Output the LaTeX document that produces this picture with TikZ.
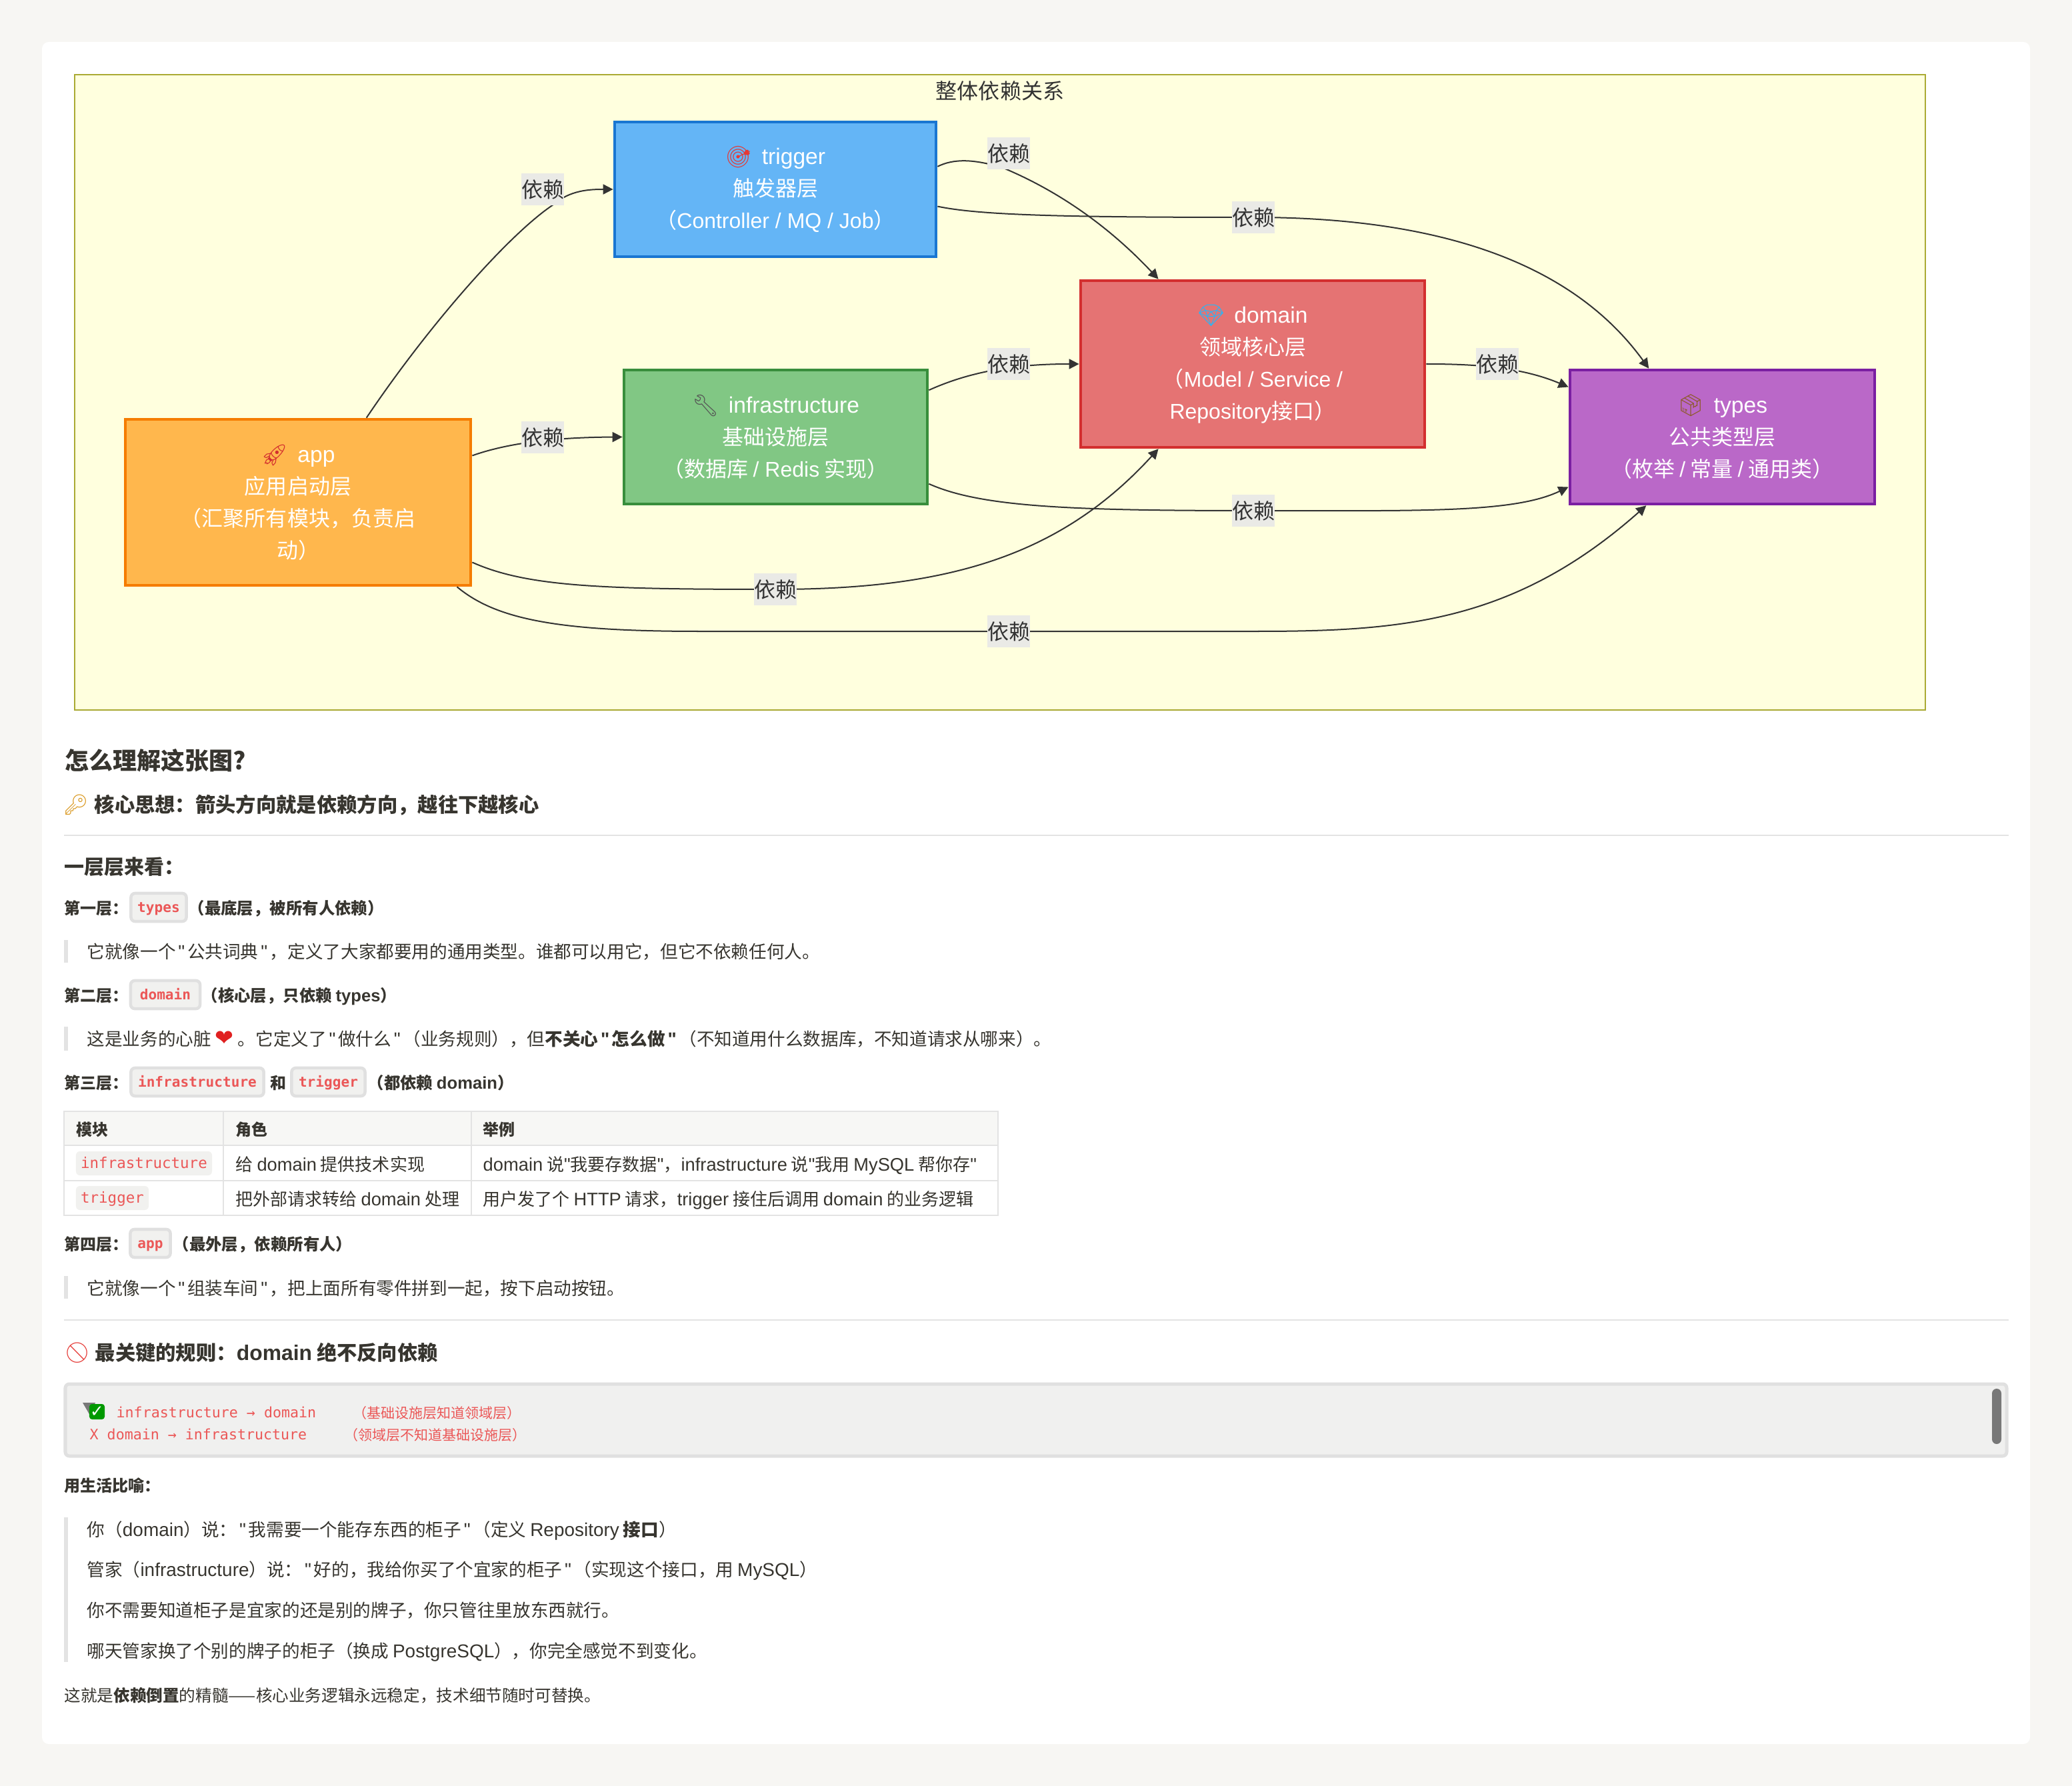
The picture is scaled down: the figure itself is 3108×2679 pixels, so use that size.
\documentclass[tikz,border=0pt]{standalone}
\usepackage{fontspec}
\setmainfont{Noto Sans CJK SC}
\newfontfamily\lat[Scale=1.05]{Liberation Sans}
\newfontfamily\latnarrow{Liberation Sans}
\newfontfamily\mono{DejaVu Sans Mono}
\newfontfamily\symb{DejaVu Sans}
\newfontfamily\emoji{Noto Emoji}
\usetikzlibrary{arrows.meta}
\definecolor{pagefill}{HTML}{F7F6F3}
\definecolor{clusterfill}{HTML}{FFFFDE}
\definecolor{clusterborder}{HTML}{AAAA33}
\definecolor{ink}{HTML}{37352F}
\definecolor{darkline}{HTML}{333333}
\definecolor{edgelabel}{HTML}{EAEAE6}
\definecolor{rulegrey}{HTML}{E3E3E3}
\definecolor{chipfill}{HTML}{F1F1EF}
\definecolor{chipborder}{HTML}{E0E0E0}
\definecolor{codered}{HTML}{EB5757}
\definecolor{headfill}{HTML}{F7F7F5}
\definecolor{codefill}{HTML}{F0F0EF}
\definecolor{triggerfill}{HTML}{64B5F6}
\definecolor{triggerborder}{HTML}{1976D2}
\definecolor{infrafill}{HTML}{81C784}
\definecolor{infraborder}{HTML}{388E3C}
\definecolor{appfill}{HTML}{FFB74D}
\definecolor{appborder}{HTML}{F57C00}
\definecolor{domainfill}{HTML}{E57373}
\definecolor{domainborder}{HTML}{D32F2F}
\definecolor{typesfill}{HTML}{BA68C8}
\definecolor{typesborder}{HTML}{7B1FA2}
\newcommand{\la}[1]{{\lat #1}}
\newcommand{\lan}[1]{{\latnarrow #1}}
\newcommand{\qt}{\kern.14em{\lat"}\kern.14em}
\newcommand{\emj}[2]{{\color[HTML]{#1}\emoji #2}}
\tikzset{
  txt/.style={anchor=west, inner sep=0pt, yshift=-0.015cm, text=ink, text height=#1*0.0088cm, text depth=#1*0.0012cm,
    font=\fontsize{\fpeval{#1*0.2845}}{\fpeval{#1*0.34}}\selectfont},
  layer/.style={rectangle, align=center, text=white, line width=0.045cm, inner sep=0pt,
    font=\fontsize{9.1}{13.66}\selectfont},
  dep/.style={-{Triangle[length=0.15cm, width=0.15cm]}, line width=0.02cm, draw=darkline},
  deplabel/.style={rectangle, fill=edgelabel, text=darkline, inner sep=0pt, minimum width=0.64cm, minimum height=0.47cm,
    font=\fontsize{9.1}{11}\selectfont},
  chip/.style={rectangle, rounded corners=0.06cm, fill=chipfill, draw=chipborder, line width=0.045cm, inner sep=0pt,
    minimum height=0.42cm, text height=0.19cm, text depth=0.05cm, text=codered, font=\fontsize{6}{8}\mono\bfseries\selectfont},
  cellchip/.style={rectangle, rounded corners=0.06cm, fill=chipfill, inner sep=0pt, minimum height=0.36cm,
    text height=0.2cm, text depth=0.05cm, text=codered, font=\fontsize{6.4}{8}\mono\selectfont},
  codeline/.style={anchor=west, inner sep=0pt, text=codered, font=\fontsize{6.15}{8}\mono\selectfont},
  codenote/.style={txt=21, text=codered},
  quotebar/.style={fill=rulegrey},
  hair/.style={draw=rulegrey, line width=0.024cm}
}
\begin{document}
\begin{tikzpicture}[x=0.01cm, y=-0.01cm]

\fill[pagefill] (0,0) rectangle (3108,2679);
\fill[white, rounded corners=0.1cm] (63,63) rectangle (3045,2616);

% diagram
\draw[fill=clusterfill, draw=clusterborder, line width=0.025cm] (112,112) rectangle (2888,1065);
\node[txt=32, anchor=center, text=darkline] (title) at (1500,135) {整体依赖关系};

\node[layer, fill=triggerfill, draw=triggerborder, minimum width=4.82cm, minimum height=2.02cm] (trigger) at (1163,284)
  {\emj{E53935}{🎯} \ \la{trigger}\\触发器层\\（\lan{Controller / MQ / Job}）};
\node[layer, fill=infrafill, draw=infraborder, minimum width=4.55cm, minimum height=2.01cm] (infra) at (1163.5,655.5)
  {\emj{555555}{🔧} \ \la{infrastructure}\\基础设施层\\（数据库 \lan{/ Redis} 实现）};
\node[layer, fill=appfill, draw=appborder, minimum width=5.18cm, minimum height=2.49cm] (app) at (447,753.5)
  {\emj{D32F2F}{🚀} \ \la{app}\\应用启动层\\（汇聚所有模块，负责启\\动）};
\node[layer, fill=domainfill, draw=domainborder, minimum width=5.16cm, minimum height=2.5cm] (domain) at (1879,546)
  {\emj{29B6F6}{💎} \ \la{domain}\\领域核心层\\（\lan{Model / Service /}\\\lan{Repository}接口）};
\node[layer, fill=typesfill, draw=typesborder, minimum width=4.57cm, minimum height=2.01cm] (types) at (2583.5,655.5)
  {\emj{8D5A2B}{📦} \ \la{types}\\公共类型层\\（枚举 \lan{/} 常量 \lan{/} 通用类）};

\draw[dep] (app.51.4) .. controls (645,485) and (765,350) .. (830,307) .. controls (855,285) and (885,284) .. (trigger.west);
\draw[dep] (app.15.1) .. controls (760,665) and (830,656) .. (infra.west);
\draw[dep] (trigger.8.9) .. controls (1430,238) and (1460,238) .. (1505,252) .. controls (1560,275) and (1645,320) .. (domain.138);
\draw[dep] (trigger.-6.8) .. controls (1470,323) and (1600,326) .. (1880,326) .. controls (2190,326) and (2370,410) .. (types.137.5);
\draw[dep] (infra.17.5) .. controls (1460,555) and (1530,546) .. (domain.west);
\draw[dep] (infra.-17.5) .. controls (1470,760) and (1600,766) .. (1880,766) .. controls (2130,766) and (2270,770) .. (types.198.6);
\draw[dep] (app.-19.6) .. controls (790,880) and (900,884) .. (1163,884) .. controls (1420,884) and (1590,835) .. (domain.222.8);
\draw[dep] (app.-28) .. controls (745,930) and (840,947) .. (1050,947) -- (1883,947) .. controls (2100,947) and (2270,935) .. (types.222);
\draw[dep] (domain.east) .. controls (2210,546) and (2280,550) .. (types.162);

\node[deplabel] (labelappt) at (814,284) {依赖};
\node[deplabel] (labelappi) at (814,656) {依赖};
\node[deplabel] (labelappd) at (1163,884) {依赖};
\node[deplabel] (labelappty) at (1513,947) {依赖};
\node[deplabel] (labeltrid) at (1513,230) {依赖};
\node[deplabel] (labeltrity) at (1880,326) {依赖};
\node[deplabel] (labelinfd) at (1513,546) {依赖};
\node[deplabel] (labelinfty) at (1880,766) {依赖};
\node[deplabel] (labeldomty) at (2246,546) {依赖};

% explanation
\node[txt=36] (howto) at (97,1139) {\bfseries 怎么理解这张图?};
\node[txt=30] (keyicon) at (94,1205) {\emj{D9961A}{🔑}};
\node[txt=30.3] (coreidea) at (141,1205) {\bfseries 核心思想：箭头方向就是依赖方向，越往下越核心};
\draw[hair] (96,1253) -- (3013,1253);
\node[txt=30] (layers) at (96,1299) {\bfseries 一层层来看：};

\node[txt=24] (first) at (96,1361) {\bfseries 第一层：};
\node[chip, minimum width=0.83cm] (chiptypes) at (238,1361) {types};
\node[txt=24.4] (firstnote) at (282,1361) {\bfseries （最底层，被所有人依赖）};
\fill[quotebar] (96,1410) rectangle (102,1444);
\node[txt=26.6] (quotetypes) at (130,1426) {它就像一个\qt 公共词典\qt ，定义了大家都要用的通用类型。谁都可以用它，但它不依赖任何人。};

\node[txt=24] (second) at (96,1492) {\bfseries 第二层：};
\node[chip, minimum width=1.04cm] (chipdomain) at (248,1492) {domain};
\node[txt=24.4] (secondnote) at (302,1492) {\bfseries （核心层，只依赖 \la{types}）};
\fill[quotebar] (96,1540) rectangle (102,1576);
\node[txt=26.6] (quotedomain) at (130,1557) {这是业务的心脏 {\color[HTML]{E02020}\fontsize{9.5}{9}\symb ❤} 。它定义了\qt 做什么\qt （业务规则），但\textbf{不关心\qt 怎么做\qt}（不知道用什么数据库，不知道请求从哪来）。};

\node[txt=24] (third) at (96,1623) {\bfseries 第三层：};
\node[chip, minimum width=1.99cm] (chipinfra) at (296,1623) {infrastructure};
\node[txt=24] (andword) at (405,1623) {\bfseries 和};
\node[chip, minimum width=1.1cm] (chiptrigger) at (492.5,1623) {trigger};
\node[txt=24.4] (thirdnote) at (551,1623) {\bfseries （都依赖 \la{domain}）};

% table
\fill[headfill] (96,1667) rectangle (1497,1718);
\draw[hair] (96,1667) rectangle (1497,1823);
\draw[hair] (96,1718) -- (1497,1718);
\draw[hair] (96,1771) -- (1497,1771);
\draw[hair] (335,1667) -- (335,1823);
\draw[hair] (707,1667) -- (707,1823);
\node[txt=24] (headmodule) at (114,1693) {\bfseries 模块};
\node[txt=24] (headrole) at (353,1693) {\bfseries 角色};
\node[txt=24] (headcase) at (724,1693) {\bfseries 举例};
\node[cellchip, minimum width=2.04cm] (cellinfra) at (216,1745) {infrastructure};
\node[txt=26] (roleinfra) at (353,1745) {给 \la{domain} 提供技术实现};
\node[txt=26] (caseinfra) at (724,1745) {\la{domain} 说\la{"}我要存数据\la{"}，\la{infrastructure} 说\la{"}我用 \la{MySQL} 帮你存\la{"}};
\node[cellchip, minimum width=1.09cm] (celltrigger) at (168.5,1797) {trigger};
\node[txt=26] (roletrigger) at (353,1797) {把外部请求转给 \la{domain} 处理};
\node[txt=26] (casetrigger) at (724,1797) {用户发了个 \la{HTTP} 请求，\la{trigger} 接住后调用 \la{domain} 的业务逻辑};

\node[txt=24] (fourth) at (96,1865) {\bfseries 第四层：};
\node[chip, minimum width=0.6cm] (chipapp) at (225.5,1865) {app};
\node[txt=24.4] (fourthnote) at (259,1865) {\bfseries （最外层，依赖所有人）};
\fill[quotebar] (96,1914) rectangle (102,1948);
\node[txt=26.6] (quoteapp) at (130,1931) {它就像一个\qt 组装车间\qt ，把上面所有零件拼到一起，按下启动按钮。};

\draw[hair] (96,1980) -- (3013,1980);
\node[txt=30] (banicon) at (96,2027) {\emj{E53935}{🚫}};
\node[txt=30.3] (rule) at (142,2027) {\bfseries 最关键的规则：\la{domain} 绝不反向依赖};

% code block
\draw[fill=codefill, draw=chipborder, line width=0.05cm, rounded corners=0.06cm] (98,2076) rectangle (3010,2184);
\fill[black!53, rounded corners=0.07cm] (2988,2083) rectangle (3002,2166);
\fill[black!53] (124,2104) -- (143,2104) -- (135,2123) -- cycle;
\node[rectangle, rounded corners=0.04cm, fill=green!60!black, text=white, inner sep=0pt, minimum width=0.23cm, minimum height=0.23cm,
  font=\fontsize{7}{7}\symb\selectfont] (okicon) at (145.5,2117.5) {✓};
\node[codeline] (codeok) at (174,2118) {infrastructure → domain};
\node[codenote] (noteok) at (529,2118) {（基础设施层知道领域层）};
\node[codeline] (codebad) at (134,2151) {X domain → infrastructure};
\node[codenote] (notebad) at (516,2151) {（领域层不知道基础设施层）};

\node[txt=24] (metaphor) at (96,2227) {\bfseries 用生活比喻：};
\fill[quotebar] (96,2276) rectangle (102,2493);
\node[txt=26.6] (you) at (130,2293) {你（\la{domain}）说：\qt 我需要一个能存东西的柜子\qt （定义 \la{Repository} \textbf{接口}）};
\node[txt=26.6] (butler) at (130,2353) {管家（\la{infrastructure}）说：\qt 好的，我给你买了个宜家的柜子\qt （实现这个接口，用 \la{MySQL}）};
\node[txt=26.6] (nobrand) at (130,2414) {你不需要知道柜子是宜家的还是别的牌子，你只管往里放东西就行。};
\node[txt=26.6] (swap) at (130,2475) {哪天管家换了个别的牌子的柜子（换成 \la{PostgreSQL}），你完全感觉不到变化。};
\node[txt=24.6] (essence) at (96,2542) {这就是\textbf{依赖倒置}的精髓——核心业务逻辑永远稳定，技术细节随时可替换。};

\end{tikzpicture}
\end{document}
